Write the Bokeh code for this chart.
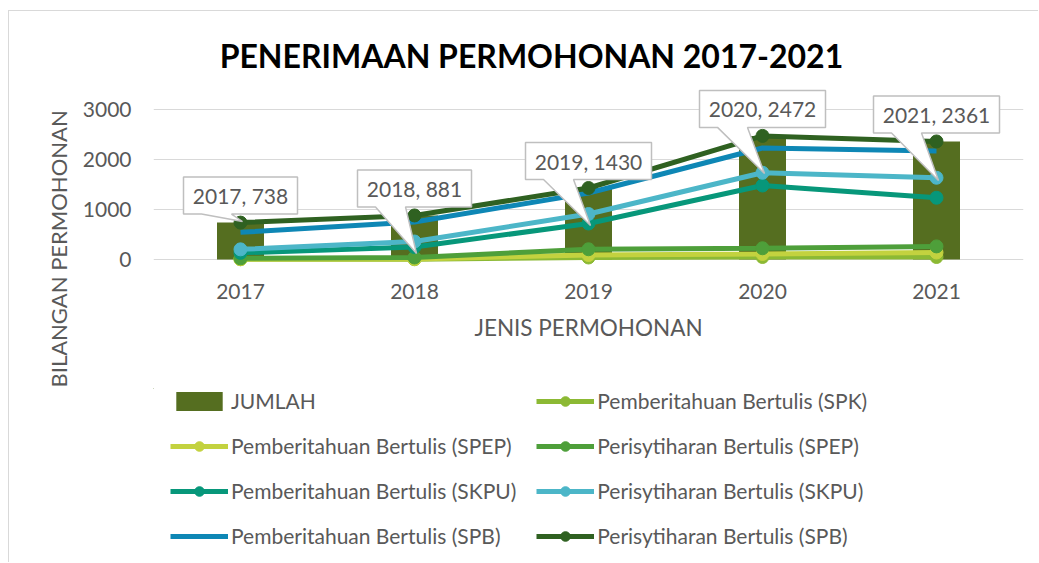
import numpy as np
from bokeh.plotting import figure
from bokeh.layouts import column
from bokeh.models import Range1d, FixedTicker, Label, Legend, LegendItem, Title
from bokeh.core.properties import value
from bokeh.embed import file_html
from bokeh.resources import INLINE

# ---------------- data ----------------
years = ["2017", "2018", "2019", "2020", "2021"]
jumlah = [738, 881, 1430, 2472, 2361]

spk = [5, 5, 40, 50, 50]            # Pemberitahuan Bertulis (SPK)
spep_p = [3, 5, 50, 60, 90]         # Pemberitahuan Bertulis (SPEP)
spep_pe = [15, 30, 115, 115, 122]   # Perisytiharan Bertulis (SPEP)
skpu_p = [110, 210, 515, 1255, 973] # Pemberitahuan Bertulis (SKPU)
skpu_pe = [70, 110, 190, 255, 400]  # Perisytiharan Bertulis (SKPU)
spb_p = [340, 390, 420, 495, 535]   # Pemberitahuan Bertulis (SPB)
spb_pe = [195, 131, 100, 242, 191]  # Perisytiharan Bertulis (SPB)

series_names = [
    "Pemberitahuan Bertulis (SPK)",
    "Pemberitahuan Bertulis (SPEP)",
    "Perisytiharan Bertulis (SPEP)",
    "Pemberitahuan Bertulis (SKPU)",
    "Perisytiharan Bertulis (SKPU)",
    "Pemberitahuan Bertulis (SPB)",
    "Perisytiharan Bertulis (SPB)",
]
series_values = [spk, spep_p, spep_pe, skpu_p, skpu_pe, spb_p, spb_pe]
series_colors = ["#8CB934", "#C3D23F", "#4E9F3A", "#07977A", "#4CB6C8", "#0E87B5", "#2F6121"]
series_markers = [True, True, True, True, True, False, True]
bar_color = "#556E20"

# values the callout pointers aim at
label_tip = [760, 120, 680, 1720, 1580]

FONT = "Lato"
GREY = "#595959"

# pixel scale helpers (1 category = 174 px, 1 px = 20 units)
PX_X = 1.0 / 174.0
PX_Y = 20.0

x = np.arange(len(years))
stacked = np.cumsum(np.array(series_values, dtype=float), axis=0)

# ---------------- main chart ----------------
p = figure(width=1029, height=377, x_range=Range1d(-0.5, 4.5), y_range=Range1d(-220, 4960),
           output_backend="svg", toolbar_location=None, title=None,
           min_border_left=144, min_border_right=15, min_border_top=0, min_border_bottom=118)
p.outline_line_color = None
p.background_fill_color = "white"
p.border_fill_color = "white"

yt = FixedTicker(ticks=[0, 1000, 2000, 3000])
p.yaxis.ticker = yt
p.ygrid.ticker = yt
p.ygrid.grid_line_color = "#d9d9d9"
p.ygrid.grid_line_width = 1
p.xgrid.visible = False
for ax in (p.xaxis, p.yaxis):
    ax.axis_line_color = None
    ax.major_tick_line_color = None
    ax.minor_tick_line_color = None
    ax.major_tick_out = 0
    ax.major_tick_in = 0
    ax.major_label_text_font = FONT
    ax.major_label_text_font_size = "21px"
    ax.major_label_text_color = GREY
p.yaxis.major_label_standoff = 22
p.xaxis.ticker = FixedTicker(ticks=list(x))
p.xaxis.major_label_overrides = {int(i): yr for i, yr in zip(x, years)}
p.xaxis.major_label_standoff = 13
p.xaxis.axis_label = "JENIS PERMOHONAN"
p.xaxis.axis_label_text_font = FONT
p.xaxis.axis_label_text_font_size = "22.5px"
p.xaxis.axis_label_text_font_style = "normal"
p.xaxis.axis_label_text_color = GREY
p.xaxis.axis_label_standoff = 12

# y-axis title as a side title (starts below the frame bottom, reads upward)
p.add_layout(Title(text="BILANGAN PERMOHONAN", align="left", offset=-117, standoff=15,
                   text_font=FONT, text_font_size="22px", text_font_style="normal",
                   text_color=GREY), "left")

# bars
p.vbar(x=x, top=jumlah, bottom=0, width=47 * PX_X, fill_color=bar_color, line_color=None)

# stacked lines
for col, mk, vals in zip(series_colors, series_markers, stacked):
    p.line(x, vals, line_color=col, line_width=5)
    if mk:
        p.scatter(x, vals, size=13, fill_color=col, line_color=col)

# callouts for totals
labels = [f"{yr}, {v}" for yr, v in zip(years, jumlah)]
xs, ys = [], []
for i, (v, t, lab) in enumerate(zip(jumlah, label_tip, labels)):
    ndig = sum(c.isdigit() for c in lab)
    w = (12 * ndig + 30) * PX_X
    h = 37 * PX_Y
    cy = v + 27 * PX_Y
    L, R = i - w / 2, i + w / 2
    T, B = cy + h / 2, cy - h / 2
    xs.append([L, R, R, L + 48 * PX_X, i + 2 * PX_X, L + 18 * PX_X, L])
    ys.append([T, T, B, B, t, B, B])
p.patches(xs, ys, fill_color="white", line_color="#bfbfbf", line_width=1.5)
p.text(x=x, y=[v + 27 * PX_Y for v in jumlah], text=labels, text_align="center",
       text_baseline="middle", text_font=value(FONT), text_font_size="21px", text_color=GREY)

# chart title
p.add_layout(Label(x=1.672, y=4080, text="PENERIMAAN PERMOHONAN 2017-2021", text_align="center",
                   text_baseline="middle", text_font=FONT, text_font_size="32px",
                   text_font_style="bold", text_color="black"))

# ---------------- legend panel ----------------
# same series drawn into a view range that shows none of them; only the legend is visible
q = figure(width=1029, height=174, x_range=Range1d(100, 101), y_range=Range1d(-2, -1),
           output_backend="svg", toolbar_location=None, title=None,
           x_axis_type=None, y_axis_type=None,
           min_border_left=0, min_border_right=0, min_border_top=0, min_border_bottom=0)
q.grid.visible = False
q.outline_line_color = None
q.background_fill_color = "white"
q.border_fill_color = "white"

items = [LegendItem(label="JUMLAH",
                    renderers=[q.vbar(x=x, top=jumlah, bottom=0, width=47 * PX_X,
                                      fill_color=bar_color, line_color=None)])]
for name, col, mk, vals in zip(series_names, series_colors, series_markers, stacked):
    rs = [q.line(x, vals, line_color=col, line_width=5)]
    if mk:
        rs.append(q.scatter(x, vals, size=13, fill_color=col, line_color=col))
    items.append(LegendItem(label=name, renderers=rs))

lg = Legend(items=items, location=(17, 14), orientation="horizontal", ncols=2,
            glyph_width=58, glyph_height=24, label_height=24, label_standoff=3,
            spacing=20, padding=0, margin=0, border_line_color=None,
            background_fill_alpha=0, label_text_font=FONT, label_text_font_size="21px",
            label_text_color=GREY)
q.add_layout(lg)

layout = column(p, q, styles={"margin-left": "8px", "margin-top": "10px",
                              "border-left": "1px solid #d9d9d9", "border-top": "1px solid #d9d9d9"})

open("out.html", "w").write(file_html(layout, INLINE))
